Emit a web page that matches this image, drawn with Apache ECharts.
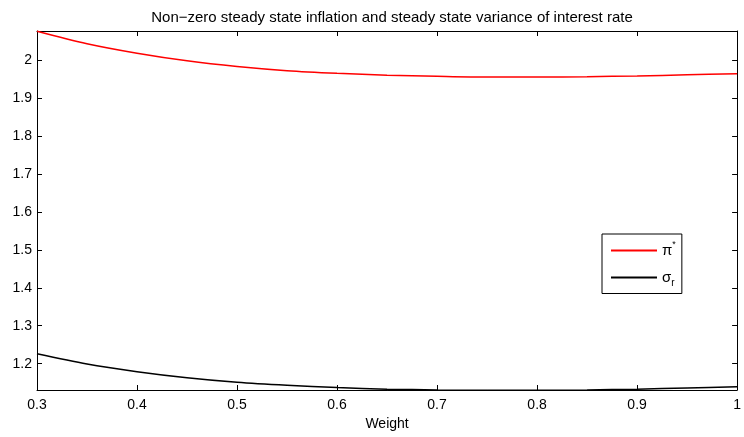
<!DOCTYPE html>
<html><head><meta charset="utf-8">
<script src="https://cdn.jsdelivr.net/npm/echarts@6/dist/echarts.min.js"></script>
<style>html,body{margin:0;padding:0;background:#fff}#c{width:744px;height:437px}</style>
</head><body><div id="c"></div>
<script>
var weights = [0.3,0.35,0.4,0.45,0.5,0.55,0.6,0.65,0.7,0.75,0.8,0.85,0.9,0.95,1.0];
var piStar = [2.076,2.043,2.018,1.998,1.983,1.972,1.965,1.960,1.957,1.955,1.955,1.956,1.958,1.961,1.964];
var sigmaR = [1.226,1.199,1.179,1.163,1.151,1.143,1.137,1.133,1.131,1.130,1.130,1.131,1.133,1.136,1.139];
var xTicks = [0.3,0.4,0.5,0.6,0.7,0.8,0.9,1];
var yTicks = [1.2,1.3,1.4,1.5,1.6,1.7,1.8,1.9,2];
var FONT = 'Liberation Sans, Arial, sans-serif';
function pairs(xs, ys){ return xs.map(function(x,i){return [x, ys[i]];}); }
var chart = echarts.init(document.getElementById('c'), null, {renderer:'canvas'});
var axLine = {show:true, lineStyle:{color:'#000', width:1}};
var tick = {show:true, inside:true, length:5, lineStyle:{color:'#000'}};
chart.setOption({
  animation:false,
  title:{text:'Non\u2212zero steady state inflation and steady state variance of interest rate', left:387, top:5, textAlign:'center',
    textStyle:{fontFamily:FONT, fontSize:15, fontWeight:'normal', color:'#000'}},
  grid:{left:37, right:4, top:31, bottom:47, show:false},
  legend:{
    show:true, left:602, top:234, orient:'vertical', itemWidth:46, itemHeight:2, itemGap:12,
    padding:[6,6,5,9],
    borderColor:'#000', borderWidth:1, backgroundColor:'#fff',
    icon:'rect',
    data:['pi','sigma'],
    formatter:function(n){ return n==='pi' ? '{b|\u03c0}{s|*}' : '{b|\u03c3}{u|r}'; },
    textStyle:{fontFamily:FONT, color:'#000', rich:{
      b:{fontFamily:FONT, fontSize:15, color:'#000'},
      s:{fontFamily:FONT, fontSize:9, color:'#000', verticalAlign:'top', padding:[0,0,12,0]},
      u:{fontFamily:FONT, fontSize:10, color:'#000', padding:[12,0,0,0]}
    }}
  },
  xAxis:[{type:'value', min:0.3, max:1, name:'Weight', nameLocation:'middle', nameGap:26,
    nameTextStyle:{fontFamily:FONT, fontSize:14, color:'#000'},
    axisLine:axLine, axisTick:Object.assign({customValues:xTicks}, tick),
    axisLabel:{customValues:xTicks, fontFamily:FONT, fontSize:14, color:'#000', margin:8, formatter:function(v){return String(+v.toFixed(2));}},
    splitLine:{show:false}},
   {type:'value', position:'top', min:0.3, max:1, axisLine:axLine, axisTick:Object.assign({customValues:xTicks}, tick),
    axisLabel:{show:false}, splitLine:{show:false}}],
  yAxis:[{type:'value', min:1.1307, max:2.0764,
    axisLine:axLine, axisTick:Object.assign({customValues:yTicks}, tick),
    axisLabel:{customValues:yTicks, fontFamily:FONT, fontSize:14, color:'#000', margin:5, formatter:function(v){return String(+v.toFixed(2));}},
    splitLine:{show:false}},
   {type:'value', position:'right', min:1.1307, max:2.0764, axisLine:axLine, axisTick:Object.assign({customValues:yTicks}, tick),
    axisLabel:{show:false}, splitLine:{show:false}}],
  series:[
    {name:'pi', type:'line', data:pairs(weights, piStar), smooth:0.3, showSymbol:false, lineStyle:{color:'#ff0000', width:1.5}, itemStyle:{color:'#ff0000'}, clip:false},
    {name:'sigma', type:'line', data:pairs(weights, sigmaR), smooth:0.3, showSymbol:false, lineStyle:{color:'#000000', width:1.5}, itemStyle:{color:'#000000'}, clip:false}
  ]
});
</script></body></html>
